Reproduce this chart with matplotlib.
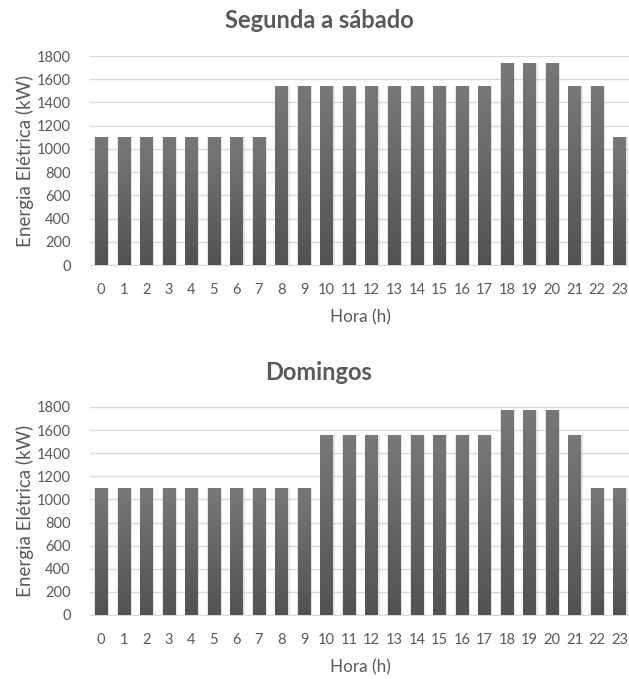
import matplotlib

matplotlib.use("Agg")
import matplotlib.pyplot as plt
import numpy as np
from matplotlib.colors import LinearSegmentedColormap

plt.rcParams["font.family"] = ["Lato", "DejaVu Sans"]

HOURS = list(range(24))
WEEKDAY_KW = [1100] * 8 + [1540] * 10 + [1740] * 3 + [1540] * 2 + [1100]
SUNDAY_KW = [1100] * 10 + [1560] * 8 + [1770] * 3 + [1560] + [1100] * 2
TITLES = ["Segunda a sábado", "Domingos"]
Y_TICKS = [0, 200, 400, 600, 800, 1000, 1200, 1400, 1600, 1800]

TEXT = "#595959"
GRID = "#d9d9d9"
BAR_CMAP = LinearSegmentedColormap.from_list("bar", ["#525252", "#787878"])


def draw_panel(fig, ax, values, title, title_y):
    x = np.array(HOURS)
    # soft shadow behind each bar
    ax.bar(x + 0.03, values, width=0.66, color="#9a9a9a", alpha=0.25,
           zorder=2, linewidth=0)
    bars = ax.bar(x, values, width=0.55, color="none", linewidth=0, zorder=3)
    grad = np.linspace(0, 1, 256).reshape(-1, 1)
    for b in bars:
        x0, w, h = b.get_x(), b.get_width(), b.get_height()
        im = ax.imshow(grad, cmap=BAR_CMAP, origin="lower", aspect="auto",
                       extent=[x0, x0 + w, 0, h], zorder=3)
        im.set_clip_path(b)

    ax.set_xlim(-0.5, 23.5)
    ax.set_ylim(0, 1800)
    ax.set_xticks(x)
    ax.set_xticklabels([str(h) for h in HOURS])
    ax.set_yticks(Y_TICKS)
    ax.tick_params(axis="both", length=0, colors=TEXT, labelsize=10.5)
    ax.tick_params(axis="x", pad=13)
    ax.tick_params(axis="y", pad=14)
    ax.grid(axis="y", color=GRID, linewidth=1, zorder=0)
    ax.set_axisbelow(True)
    for side in ("top", "right", "left"):
        ax.spines[side].set_visible(False)
    ax.spines["bottom"].set_color(GRID)
    ax.set_ylabel("Energia Elétrica (kW)", color=TEXT, fontsize=13.5, labelpad=2)
    ax.set_xlabel("Hora (h)", color=TEXT, fontsize=12.3, labelpad=9)
    fig.text(0.507, title_y, title, color=TEXT, fontsize=17, fontweight="bold",
             ha="center", va="center")


def main() -> None:
    fig = plt.figure(figsize=(6.29, 6.79), dpi=100)
    ax_top = fig.add_axes([0.143, 0.6097, 0.86, 0.3078])
    ax_bot = fig.add_axes([0.143, 0.0943, 0.86, 0.3063])
    draw_panel(fig, ax_top, WEEKDAY_KW, TITLES[0], 0.9705)
    draw_panel(fig, ax_bot, SUNDAY_KW, TITLES[1], 0.452)
    fig.savefig("out.png", dpi=100)
    plt.close(fig)


if __name__ == "__main__":
    main()
